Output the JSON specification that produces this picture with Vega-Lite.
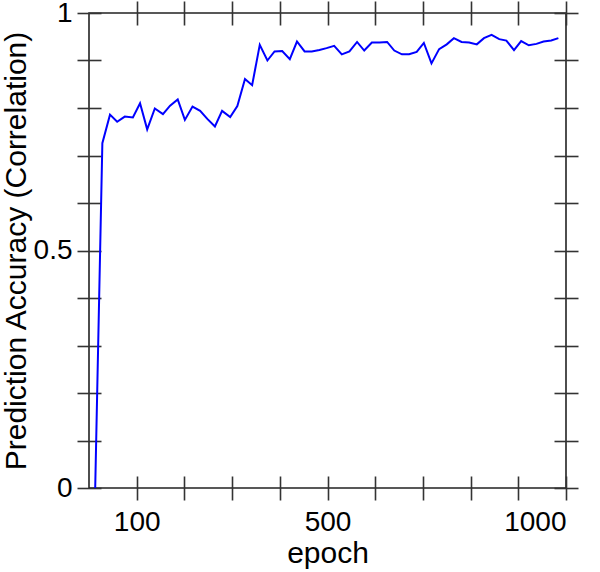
{
  "$schema": "https://vega.github.io/schema/vega-lite/v6.json",
  "width": 477,
  "height": 475,
  "autosize": {"type": "none"},
  "padding": {"left": 89, "top": 13, "right": 34, "bottom": 84},
  "background": "white",
  "config": {
    "view": {"stroke": "#222222", "strokeWidth": 1.6},
    "font": "Liberation Sans",
    "axis": {
      "grid": false,
      "domain": false,
      "tickColor": "#333333",
      "tickWidth": 1.6,
      "tickSize": 24,
      "offset": -12,
      "labelColor": "black",
      "titleColor": "black",
      "labelFont": "Liberation Sans",
      "titleFont": "Liberation Sans",
      "labelFontSize": 28,
      "titleFontSize": 30,
      "titleFontWeight": "normal",
      "labelOverlap": false
    }
  },
  "data": {
    "values": [
      {"epoch": 13, "acc": 0.0},
      {"epoch": 28, "acc": 0.726},
      {"epoch": 44, "acc": 0.786},
      {"epoch": 59, "acc": 0.771},
      {"epoch": 75, "acc": 0.782},
      {"epoch": 92, "acc": 0.780},
      {"epoch": 107, "acc": 0.810},
      {"epoch": 122, "acc": 0.755},
      {"epoch": 138, "acc": 0.799},
      {"epoch": 155, "acc": 0.787},
      {"epoch": 170, "acc": 0.805},
      {"epoch": 186, "acc": 0.818},
      {"epoch": 201, "acc": 0.775},
      {"epoch": 217, "acc": 0.803},
      {"epoch": 233, "acc": 0.794},
      {"epoch": 248, "acc": 0.777},
      {"epoch": 264, "acc": 0.761},
      {"epoch": 279, "acc": 0.794},
      {"epoch": 296, "acc": 0.781},
      {"epoch": 311, "acc": 0.804},
      {"epoch": 327, "acc": 0.861},
      {"epoch": 342, "acc": 0.848},
      {"epoch": 358, "acc": 0.933},
      {"epoch": 374, "acc": 0.900},
      {"epoch": 389, "acc": 0.919},
      {"epoch": 405, "acc": 0.920},
      {"epoch": 421, "acc": 0.903},
      {"epoch": 436, "acc": 0.940},
      {"epoch": 452, "acc": 0.919},
      {"epoch": 467, "acc": 0.919},
      {"epoch": 483, "acc": 0.922},
      {"epoch": 498, "acc": 0.926},
      {"epoch": 514, "acc": 0.931},
      {"epoch": 530, "acc": 0.913},
      {"epoch": 546, "acc": 0.919},
      {"epoch": 562, "acc": 0.939},
      {"epoch": 577, "acc": 0.921},
      {"epoch": 593, "acc": 0.938},
      {"epoch": 609, "acc": 0.938},
      {"epoch": 625, "acc": 0.939},
      {"epoch": 640, "acc": 0.921},
      {"epoch": 656, "acc": 0.913},
      {"epoch": 671, "acc": 0.913},
      {"epoch": 687, "acc": 0.918},
      {"epoch": 702, "acc": 0.937},
      {"epoch": 718, "acc": 0.894},
      {"epoch": 734, "acc": 0.924},
      {"epoch": 750, "acc": 0.934},
      {"epoch": 765, "acc": 0.947},
      {"epoch": 781, "acc": 0.939},
      {"epoch": 797, "acc": 0.938},
      {"epoch": 813, "acc": 0.934},
      {"epoch": 828, "acc": 0.947},
      {"epoch": 844, "acc": 0.954},
      {"epoch": 860, "acc": 0.945},
      {"epoch": 875, "acc": 0.942},
      {"epoch": 891, "acc": 0.922},
      {"epoch": 906, "acc": 0.941},
      {"epoch": 922, "acc": 0.932},
      {"epoch": 938, "acc": 0.935},
      {"epoch": 953, "acc": 0.940},
      {"epoch": 969, "acc": 0.942},
      {"epoch": 984, "acc": 0.947}
    ]
  },
  "layer": [
    {
      "mark": {"type": "line", "color": "#0000ff", "strokeWidth": 2},
      "encoding": {
        "x": {
          "field": "epoch",
          "type": "quantitative",
          "scale": {"domain": [0, 1000], "nice": false, "zero": false},
          "axis": {
            "orient": "bottom",
            "values": [100, 200, 300, 400, 500, 600, 700, 800, 900, 1000],
            "labelExpr": "datum.value == 100 ? '100' : datum.value == 500 ? '500' : datum.value == 1000 ? '1000' : ''",
            "labelPadding": 8,
            "title": "epoch",
            "titlePadding": 2
          }
        },
        "y": {
          "field": "acc",
          "type": "quantitative",
          "scale": {"domain": [0, 1], "nice": false},
          "axis": {
            "orient": "left",
            "values": [0, 0.1, 0.2, 0.3, 0.4, 0.5, 0.6, 0.7, 0.8, 0.9, 1],
            "labelExpr": "datum.value == 0 ? '0' : datum.value == 0.5 ? '0.5' : datum.value == 1 ? '1' : ''",
            "labelPadding": 5,
            "title": "Prediction Accuracy (Correlation)",
            "titlePadding": 2
          }
        }
      }
    },
    {
      "mark": {"type": "line", "strokeOpacity": 0},
      "encoding": {
        "x": {
          "field": "epoch",
          "type": "quantitative",
          "scale": {"domain": [0, 1000], "nice": false, "zero": false},
          "axis": {
            "orient": "top",
            "values": [100, 200, 300, 400, 500, 600, 700, 800, 900, 1000],
            "labels": false,
            "title": null
          }
        },
        "y": {
          "field": "acc",
          "type": "quantitative",
          "scale": {"domain": [0, 1], "nice": false},
          "axis": {
            "orient": "right",
            "values": [0, 0.1, 0.2, 0.3, 0.4, 0.5, 0.6, 0.7, 0.8, 0.9, 1],
            "labels": false,
            "title": null
          }
        }
      }
    }
  ],
  "resolve": {"axis": {"x": "independent", "y": "independent"}}
}
